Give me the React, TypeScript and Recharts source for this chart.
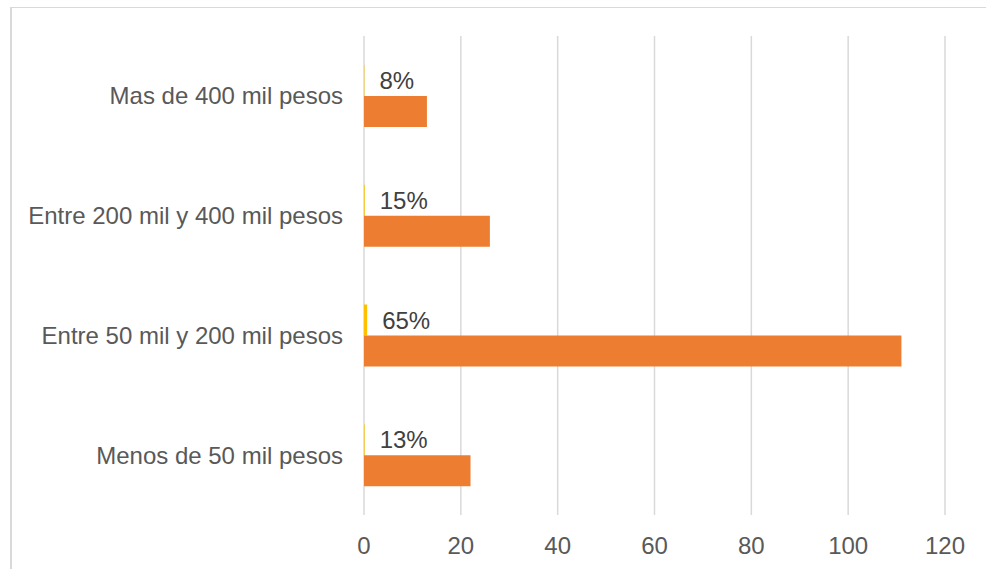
import React from "react";
import { BarChart, Bar, XAxis, YAxis, CartesianGrid, LabelList } from "recharts";

// Income brackets, listed top to bottom
const categories = [
  "Mas de 400 mil pesos",
  "Entre 200 mil y 400 mil pesos",
  "Entre 50 mil y 200 mil pesos",
  "Menos de 50 mil pesos",
];
// Share of respondents per bracket (fraction)
const shares = [0.08, 0.15, 0.65, 0.13];
// Number of respondents per bracket
const counts = [13, 26, 111, 22];
// Value axis ticks
const xTicks = [0, 20, 40, 60, 80, 100, 120];

const data = categories.map((name, i) => ({
  name,
  share: shares[i],
  count: counts[i],
}));

const FONT = "'Liberation Sans', Arial, sans-serif";
const pct = (v: any) => `${Math.round(Number(v) * 100)}%`;

export default function App() {
  return (
    <div
      style={{
        position: "absolute",
        left: 0,
        top: 0,
        width: 986,
        height: 569,
        background: "#ffffff",
        overflow: "hidden",
        fontFamily: FONT,
      }}
    >
      {/* chart frame */}
      <div
        style={{
          position: "absolute",
          left: 10,
          top: 7,
          width: 1000,
          height: 600,
          borderTop: "1px solid #d9d9d9",
          borderLeft: "2px solid #d9d9d9",
          boxSizing: "border-box",
        }}
      />
      <div style={{ position: "absolute", left: 0, top: 0 }}>
        <BarChart
          width={986}
          height={569}
          data={data}
          layout="vertical"
          margin={{ top: 36, right: 41, bottom: 24, left: 0 }}
          barSize={31}
          barGap={0}
        >
          <CartesianGrid horizontal={false} stroke="#d9d9d9" strokeWidth={1.5} />
          <XAxis
            type="number"
            domain={[0, 120]}
            ticks={xTicks}
            axisLine={false}
            tickLine={false}
            tickSize={0}
            tickMargin={22}
            height={30}
            interval={0}
            tick={{ fill: "#595959", fontSize: 24, fontFamily: FONT }}
          />
          <YAxis
            type="category"
            dataKey="name"
            width={364}
            axisLine={false}
            tickLine={false}
            tickSize={0}
            tickMargin={21}
            interval={0}
            tick={{ fill: "#595959", fontSize: 24, fontFamily: FONT }}
          />
          <Bar dataKey="share" fill="#ffc000" isAnimationActive={false}>
            <LabelList
              dataKey="share"
              position="right"
              offset={15}
              formatter={pct}
              fill="#404040"
              fontSize={24}
              fontFamily={FONT}
            />
          </Bar>
          <Bar dataKey="count" fill="#ed7d31" isAnimationActive={false} />
        </BarChart>
      </div>
    </div>
  );
}
